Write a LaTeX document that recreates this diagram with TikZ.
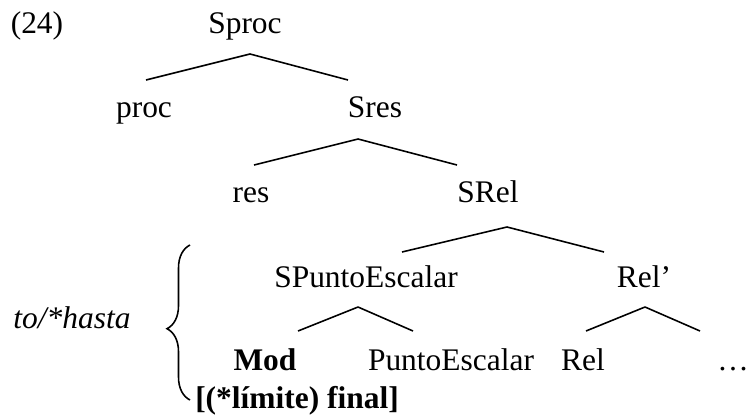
\documentclass[tikz,border=0pt]{standalone}
\usepackage{fontspec}
\setmainfont{Liberation Serif}
\usetikzlibrary{calc,decorations.pathreplacing}
\newcommand\treefont{\fontsize{17.9}{21}\selectfont}

\begin{document}
\begin{tikzpicture}[
    x=0.02cm, y=-0.02cm,
    lbl/.style={anchor=base, inner sep=0pt, font=\treefont},
    branch/.style={line width=0.9pt}
  ]
    \useasboundingbox (0,0) rectangle (747,419);
    \node[lbl] (ex) at (37,33) {(24)};
    \node[lbl] (sproc) at (245,33) {Sproc};
    \node[lbl] (proc) at (144,117) {proc};
    \node[lbl] (sres) at (375,117) {Sres};
    \node[lbl] (res) at (251,202) {res};
    \node[lbl] (srel) at (488,202) {SRel};
    \node[lbl] (spe) at (366,287) {SPuntoEscalar};
    \node[lbl] (relbar) at (644,287) {Rel’};
    \node[lbl, font=\treefont\bfseries] (mod) at (265,370) {Mod};
    \node[lbl] (pe) at (451,370) {PuntoEscalar};
    \node[lbl] (rel) at (583,370) {Rel};
    \node[lbl] (dots) at (733,370) {…};
    \node[lbl, font=\treefont\itshape] (hasta) at (72,328) {to/*hasta};
    \node[lbl, font=\treefont\bfseries] (lim) at (297,408) {[(*límite) final]};
    % branches
    \draw[branch] ($(sproc.base)+(5,21)$) -- ($(proc.base)+(2,-37)$);
    \draw[branch] ($(sproc.base)+(5,21)$) -- ($(sres.base)+(-27,-37)$);
    \draw[branch] ($(sres.base)+(-17,22)$) -- ($(res.base)+(3,-37)$);
    \draw[branch] ($(sres.base)+(-17,22)$) -- ($(srel.base)+(-31,-37)$);
    \draw[branch] ($(srel.base)+(19,25)$) -- ($(spe.base)+(36,-35)$);
    \draw[branch] ($(srel.base)+(19,25)$) -- ($(relbar.base)+(-40,-35)$);
    \draw[branch] ($(spe.base)+(-8,20)$) -- ($(mod.base)+(33,-39)$);
    \draw[branch] ($(spe.base)+(-8,20)$) -- ($(pe.base)+(-38,-39)$);
    \draw[branch] ($(relbar.base)+(1,20)$) -- ($(rel.base)+(3,-39)$);
    \draw[branch] ($(relbar.base)+(1,20)$) -- ($(dots.base)+(-33,-39)$);
    % brace
    \coordinate (brbot) at (190,400);
    \coordinate (brtop) at (190,245);
    \draw[branch, decorate, decoration={brace, amplitude=0.46cm, aspect=0.46}] (brbot) -- (brtop);
\end{tikzpicture}
\end{document}
